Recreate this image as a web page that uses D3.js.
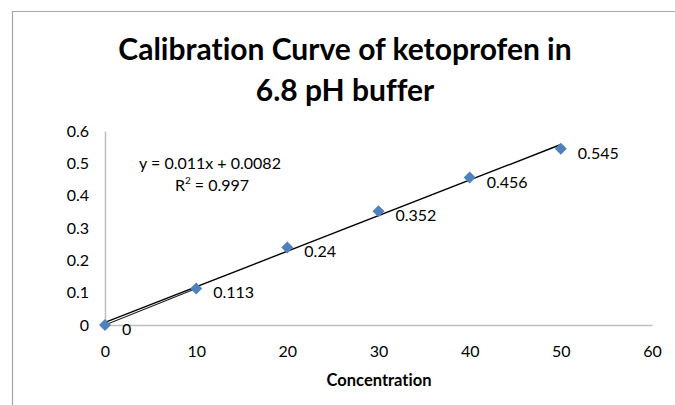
<!DOCTYPE html>
<html><head><meta charset="utf-8">
<script src="https://cdn.jsdelivr.net/npm/d3@7"></script>
<style>body{margin:0;background:#fff}svg{display:block}text{font-family:Lato,"Open Sans",sans-serif;font-variant-ligatures:none;font-feature-settings:"liga" 0,"dlig" 0}</style>
</head><body>
<svg id="c" width="675" height="405"></svg>
<script>
const concentration = [0, 10, 20, 30, 40, 50];
const absorbance = [0, 0.113, 0.24, 0.352, 0.456, 0.545];
const xTicks = [0, 10, 20, 30, 40, 50, 60];
const yTicks = [0, 0.1, 0.2, 0.3, 0.4, 0.5, 0.6];
const slope = 0.011, intercept = 0.0082, r2 = 0.997;
const titleLines = ["Calibration Curve of ketoprofen in", "6.8 pH buffer"];

const svg = d3.select("#c");
const x = d3.scaleLinear().domain([0, 60]).range([105, 652]);
const y = d3.scaleLinear().domain([0, 0.6]).range([325, 131]);

// outer chart border (top & left visible)
svg.append("path").attr("d","M12.5,405 V11.5 H675").attr("fill","none").attr("stroke","#a6a6a6").attr("stroke-width",1.2);

// title
const tg = svg.append("g");
titleLines.forEach((t,i)=>{
  tg.append("text").attr("x",345).attr("y",[60,101][i]).attr("text-anchor","middle")
    .attr("font-weight","bold").attr("font-size",26).attr("fill","#000").text(t);
});
const t0 = tg.select("text").node();
const w = t0.getComputedTextLength();
const fs = 26*465/w;
tg.selectAll("text").attr("font-size",Math.min(fs,30));

// axes
const gx = svg.append("g").attr("transform",`translate(0,${y(0)})`)
  .call(d3.axisBottom(x).tickValues(xTicks).tickSize(0).tickPadding(21).tickFormat(d3.format("d")));
const gy = svg.append("g").attr("transform",`translate(${x(0)},0)`)
  .call(d3.axisLeft(y).tickValues(yTicks).tickSize(0).tickPadding(16).tickFormat(d=>d===0?"0":d3.format(".1f")(d)));
[gx,gy].forEach(g=>{
  g.select(".domain").attr("stroke","#bfbfbf").attr("stroke-width",1.5);
  g.selectAll("text").attr("font-size",16).attr("fill","#000").attr("font-family","Lato,'Open Sans',sans-serif");
});

// axis title
svg.append("text").attr("x",379).attr("y",386).attr("text-anchor","middle")
  .attr("font-weight","bold").attr("font-size",16.5).text("Concentration");

// series line between first points
const line = d3.line().x(d=>x(d[0])).y(d=>y(d[1]));
const pts = concentration.map((c,i)=>[c,absorbance[i]]);
svg.append("path").attr("d",line(pts.slice(0,2))).attr("fill","none").attr("stroke","#222").attr("stroke-width",1.2);

// trendline
const xmin = d3.min(concentration), xmax = d3.max(concentration);
svg.append("path").attr("d",line([[xmin,slope*xmin+intercept],[xmax,slope*xmax+intercept]]))
  .attr("fill","none").attr("stroke","#000").attr("stroke-width",1.4);

// markers
svg.selectAll("path.pt").data(pts).join("path").attr("class","pt")
  .attr("d",d3.symbol(d3.symbolSquare,72)())
  .attr("transform",d=>`translate(${x(d[0])},${y(d[1])}) rotate(45)`)
  .attr("fill","#4f81bd");

// data labels
svg.selectAll("text.lbl").data(pts).join("text").attr("class","lbl")
  .attr("x",d=>x(d[0])+17).attr("y",d=>y(d[1])+10)
  .attr("font-size",16).attr("fill","#000").text(d=>String(d[1]));

// equation
svg.append("text").attr("x",210).attr("y",169).attr("text-anchor","middle").attr("font-size",16)
  .text(`y = ${slope}x + ${intercept}`);
const r = svg.append("text").attr("x",212).attr("y",191).attr("text-anchor","middle").attr("font-size",16);
r.append("tspan").text("R");
r.append("tspan").attr("font-size",10).attr("dy",-7).text("2");
r.append("tspan").attr("dy",7).text(` = ${r2}`);
</script>
</body></html>
